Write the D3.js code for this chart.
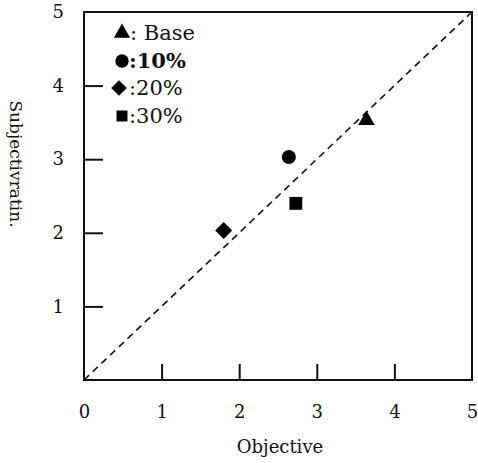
<!DOCTYPE html>
<html><head><meta charset="utf-8">
<script src="https://cdn.jsdelivr.net/npm/d3@7"></script>
<style>body{margin:0;background:#fff}text{font-family:"DejaVu Serif","Liberation Serif",serif;fill:#111}</style>
</head><body><svg id="c" width="478" height="463"></svg>
<script>
const xTicks=[0,1,2,3,4,5];
const yTicks=[1,2,3,4,5];
const groups=["Base","10%","20%","30%"];
const shapes=["triangle","circle","diamond","square"];
const objective=[3.64,2.64,1.80,2.73];
const subjective=[3.53,3.03,2.03,2.40];
const xTitle="Objective", yTitle="Subjectivratin.";

const svg=d3.select("#c");
const x=d3.scaleLinear().domain([0,5]).range([84,472]);
const y=d3.scaleLinear().domain([0,5]).range([380,12]);
const sym={triangle:d3.symbolTriangle,circle:d3.symbolCircle,diamond:d3.symbolSquare,square:d3.symbolSquare};
const sz={triangle:120,circle:155,diamond:145,square:165};
const lsz={triangle:115,circle:140,diamond:120,square:120};
const rot={diamond:45};

svg.append("rect").attr("x",x(0)).attr("y",y(5)).attr("width",x(5)-x(0)).attr("height",y(0)-y(5))
  .attr("fill","none").attr("stroke","#111").attr("stroke-width",2);

const xa=svg.append("g").attr("transform",`translate(0,${y(0)})`)
  .call(d3.axisBottom(x).tickValues(xTicks).tickSize(-16).tickPadding(25).tickFormat(d3.format("d")));
const ya=svg.append("g").attr("transform",`translate(${x(0)},0)`)
  .call(d3.axisLeft(y).tickValues(yTicks).tickSize(-19).tickPadding(20).tickFormat(d3.format("d")));
[xa,ya].forEach(a=>{a.select(".domain").remove();a.selectAll("line").attr("stroke","#111").attr("stroke-width",2);
  a.selectAll("text").attr("font-size",18).attr("fill","#222");});
xa.selectAll(".tick").filter(d=>d===0||d===5).select("line").remove();
ya.selectAll(".tick").filter(d=>d===5).select("line").remove();

svg.append("line").attr("x1",x(0)).attr("y1",y(0)).attr("x2",x(5)).attr("y2",y(5))
  .attr("stroke","#111").attr("stroke-width",1.6).attr("stroke-dasharray","7,5");

svg.selectAll("path.pt").data(groups).join("path").attr("class","pt")
  .attr("d",(d,i)=>d3.symbol(sym[shapes[i]],sz[shapes[i]])())
  .attr("transform",(d,i)=>`translate(${x(objective[i])},${y(subjective[i])}) rotate(${rot[shapes[i]]||0})`)
  .attr("fill","#000");

const ly=[33,61,88,116];
const lx=[122,122,119,122];
const lg=svg.append("g");
groups.forEach((g,i)=>{
  lg.append("path").attr("d",d3.symbol(sym[shapes[i]],lsz[shapes[i]])())
    .attr("transform",`translate(${lx[i]},${ly[i]}) rotate(${rot[shapes[i]]||0})`).attr("fill","#000");
  lg.append("text").attr("x",i===0?130:129).attr("y",ly[i]+7).attr("font-size",21)
    .attr("font-weight",i===1?"bold":"normal").text(i===0?": "+g:":"+g);
});

svg.append("text").attr("x",280).attr("y",453).attr("text-anchor","middle").attr("font-size",18).text(xTitle);
svg.append("text").attr("transform","translate(10,164) rotate(90)").attr("text-anchor","middle").attr("font-size",17).text(yTitle);
</script></body></html>
